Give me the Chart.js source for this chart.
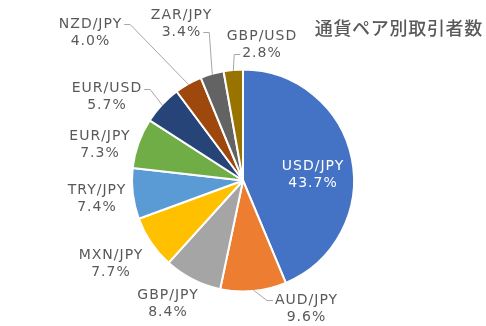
<!DOCTYPE html>
<html>
<head>
<meta charset="utf-8">
<script src="https://cdn.jsdelivr.net/npm/chart.js@4/dist/chart.umd.min.js"></script>
<style>
  html, body { margin: 0; padding: 0; background: #ffffff; }
  #wrap { width: 486px; height: 326px; position: relative; }
</style>
</head>
<body>
<div id="wrap"><canvas id="c" width="486" height="326"></canvas></div>
<script>
const chartTitle = '通貨ペア別取引者数';
const currencyPairs = ['USD/JPY', 'AUD/JPY', 'GBP/JPY', 'MXN/JPY', 'TRY/JPY', 'EUR/JPY', 'EUR/USD', 'NZD/JPY', 'ZAR/JPY', 'GBP/USD'];
const traderShares = [43.7, 9.6, 8.4, 7.7, 7.4, 7.3, 5.7, 4.0, 3.4, 2.8];
const sliceColors = ['#4472C4', '#ED7D31', '#A5A5A5', '#FFC000', '#5B9BD5', '#70AD47', '#264478', '#9E480E', '#636363', '#997300'];

// Where each label block sits relative to the pie centre, and how its leader joins it.
const labelLayout = [
  { dx: 70, dy: -6, inside: true },
  { dx: 63.5, dy: 128, leader: 'left', line: 0 },
  { dx: -75, dy: 123 },
  { dx: -132, dy: 83 },
  { dx: -146, dy: 18 },
  { dx: -143, dy: -35.5 },
  { dx: -136, dy: -83.5, leader: 'right', line: 0 },
  { dx: -152.5, dy: -148, leader: 'right', line: 0 },
  { dx: -61.5, dy: -157, leader: 'right', line: 1 },
  { dx: 19, dy: -135.5, leader: 'left', line: 1 }
];

const LABEL_FONT = '14px "DejaVu Sans"';
const TITLE_FONT = '500 18px "Noto Sans CJK JP"';
const LINE_GAP = 17;

const pieLabels = {
  id: 'pieLabels',
  afterDatasetsDraw(chart) {
    const ctx = chart.ctx;
    const meta = chart.getDatasetMeta(0);
    ctx.save();
    ctx.font = LABEL_FONT;
    ctx.letterSpacing = '1px';
    ctx.textAlign = 'center';
    ctx.textBaseline = 'middle';
    meta.data.forEach((arc, i) => {
      const p = arc.getProps(['x', 'y', 'startAngle', 'endAngle', 'outerRadius'], true);
      const lay = labelLayout[i];
      const lines = [currencyPairs[i], traderShares[i].toFixed(1) + '%'];
      const cx = p.x + lay.dx;
      const cy = p.y + lay.dy;
      const ys = [cy - LINE_GAP / 2, cy + LINE_GAP / 2];
      ctx.fillStyle = lay.inside ? '#ffffff' : '#595959';
      lines.forEach((t, k) => ctx.fillText(t, cx, ys[k]));

      if (lay.leader) {
        const w = ctx.measureText(lines[lay.line]).width;
        const mid = (p.startAngle + p.endAngle) / 2;
        const ex = p.x + Math.cos(mid) * (p.outerRadius - 1);
        const ey = p.y + Math.sin(mid) * (p.outerRadius - 1);
        const side = lay.leader === 'left' ? -1 : 1;
        const ax = cx + side * (w / 2 + 2);
        const ay = Math.round(ys[lay.line]) + 0.5;
        const bx = ax + side * 6;
        ctx.beginPath();
        ctx.strokeStyle = '#A6A6A6';
        ctx.lineWidth = 1;
        ctx.moveTo(ax, ay);
        ctx.lineTo(bx, ay);
        ctx.lineTo(ex, ey);
        ctx.stroke();
      }
    });

    ctx.letterSpacing = '0.7px';
    ctx.font = TITLE_FONT;
    ctx.fillStyle = '#595959';
    ctx.textAlign = 'right';
    ctx.fillText(chartTitle, 483, 28);
    ctx.restore();
  }
};

function build() {
  new Chart(document.getElementById('c'), {
    type: 'pie',
    data: {
      labels: currencyPairs,
      datasets: [{
        data: traderShares,
        backgroundColor: sliceColors,
        borderColor: '#ffffff',
        borderWidth: 2
      }]
    },
    options: {
      responsive: false,
      devicePixelRatio: 1,
      animation: false,
      radius: 111,
      layout: { padding: { top: 35, bottom: 0, left: 0, right: 0 } },
      plugins: {
        legend: { display: false },
        tooltip: { enabled: false },
        title: { display: false }
      }
    },
    plugins: [pieLabels]
  });
}

Promise.all([
  document.fonts.load(LABEL_FONT),
  document.fonts.load(TITLE_FONT, chartTitle)
]).then(build, build);
</script>
</body>
</html>
